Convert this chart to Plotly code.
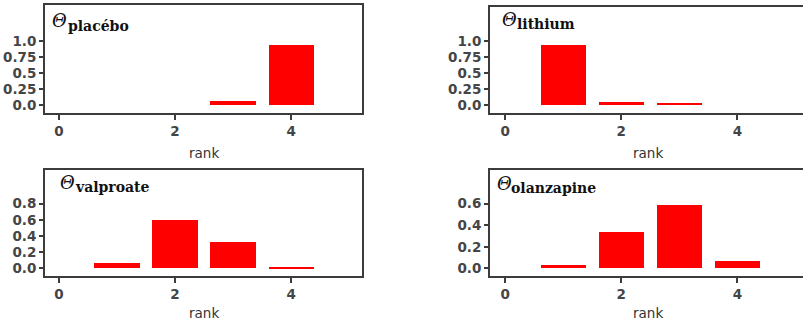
import plotly.graph_objects as go

# ---- data ----
ranks = [1, 2, 3, 4]
panel_names = ["placébo", "lithium", "valproate", "olanzapine"]
theta_placebo = [0.0, 0.0, 0.065, 0.93]
theta_lithium = [0.93, 0.045, 0.025, 0.0]
theta_valproate = [0.06, 0.60, 0.33, 0.015]
theta_olanzapine = [0.035, 0.335, 0.585, 0.07]
x_tickvals = [0, 2, 4]
x_ticktext = ["0", "2", "4"]
y_tickvals_top = [0, 0.25, 0.5, 0.75, 1.0]
y_ticktext_top = ["0.0", "0.25", "0.5", "0.75", "1.0"]
y_tickvals_valproate = [0, 0.2, 0.4, 0.6, 0.8]
y_ticktext_valproate = ["0.0", "0.2", "0.4", "0.6", "0.8"]
y_tickvals_olanzapine = [0, 0.2, 0.4, 0.6]
y_ticktext_olanzapine = ["0.0", "0.2", "0.4", "0.6"]
x_label = "rank"

W, H = 803, 322


def fx(p):
    return p / W


def fy(p):
    return 1 - p / H


series = [theta_placebo, theta_lithium, theta_valproate, theta_olanzapine]
yticks = [(y_tickvals_top, y_ticktext_top), (y_tickvals_top, y_ticktext_top),
          (y_tickvals_valproate, y_ticktext_valproate),
          (y_tickvals_olanzapine, y_ticktext_olanzapine)]

# panel geometry in pixels: left, right, top, bottom ; ranges
geom = [
    dict(l=45, r=362, t=5, b=113, xr=[-0.24, 5.22], yr=[-0.125, 1.5625], mirror_y=True,
         th=(50, 20.5), sub=(66, 26), cx=203.5),
    dict(l=490, r=803, t=7, b=113, xr=[-0.26, 5.13], yr=[-0.125, 1.53], mirror_y=False,
         th=(500, 19.5), sub=(515, 24), cx=648),
    dict(l=45, r=362, t=170, b=276, xr=[-0.24, 5.22], yr=[-0.095, 1.217], mirror_y=True,
         th=(58, 182), sub=(73, 187), cx=203.5),
    dict(l=490, r=803, t=170, b=276, xr=[-0.26, 5.13], yr=[-0.0715, 0.913], mirror_y=False,
         th=(495, 183), sub=(509, 188), cx=648),
]

fig = go.Figure()
line_col = "#3c3c3c"
tick_font = dict(family="DejaVu Sans", size=13.5, color="#454545", weight="bold")
annotations = []

for i, (vals, g) in enumerate(zip(series, geom)):
    n = "" if i == 0 else str(i + 1)
    fig.add_trace(go.Bar(x=ranks, y=vals, width=0.78, marker=dict(color="#ff0000", line=dict(width=0)),
                         xaxis="x" + n, yaxis="y" + n, showlegend=False))
    tv, tt = yticks[i]
    fig.layout["xaxis" + n] = dict(
        domain=[fx(g["l"]), fx(g["r"])], range=g["xr"], anchor="y" + n,
        tickvals=x_tickvals, ticktext=x_ticktext, ticks="outside", ticklen=5, tickwidth=1.5,
        tickcolor=line_col, showline=True, linecolor=line_col, linewidth=2, mirror=True,
        showgrid=False, zeroline=False, tickfont=tick_font, ticklabelstandoff=0,
    )
    fig.layout["yaxis" + n] = dict(
        domain=[fy(g["b"]), fy(g["t"])], range=g["yr"], anchor="x" + n,
        tickvals=tv, ticktext=tt, ticks="outside", ticklen=4, tickwidth=1.5,
        tickcolor=line_col, showline=True, linecolor=line_col, linewidth=2,
        mirror=g["mirror_y"], showgrid=False, zeroline=False, tickfont=tick_font,
    )
    # panel title: italic theta with subscript
    annotations.append(dict(
        text="<i>Θ</i>", x=fx(g["th"][0]), y=fy(g["th"][1]), xref="paper", yref="paper",
        xanchor="left", yanchor="middle", showarrow=False,
        font=dict(family="DejaVu Serif", size=18, color="#111111"),
    ))
    annotations.append(dict(
        text="<b>" + panel_names[i] + "</b>", x=fx(g["sub"][0]), y=fy(g["sub"][1]), xref="paper",
        yref="paper", xanchor="left", yanchor="middle", showarrow=False,
        font=dict(family="DejaVu Serif", size=14, color="#111111"),
    ))
    # axis title
    cy = 152.5 if i < 2 else 313
    annotations.append(dict(
        text=x_label, x=fx(g["cx"]), y=fy(cy), xref="paper", yref="paper",
        xanchor="center", yanchor="middle", showarrow=False,
        font=dict(family="DejaVu Sans", size=13.5, color="#333333"),
    ))

fig.update_layout(
    width=W, height=H, margin=dict(l=0, r=0, t=0, b=0),
    paper_bgcolor="white", plot_bgcolor="white", annotations=annotations,
    bargap=0,
)

fig.write_html("out.html", config={"displayModeBar": False},
               post_script="document.body.style.margin='0';document.body.style.overflow='hidden';")
